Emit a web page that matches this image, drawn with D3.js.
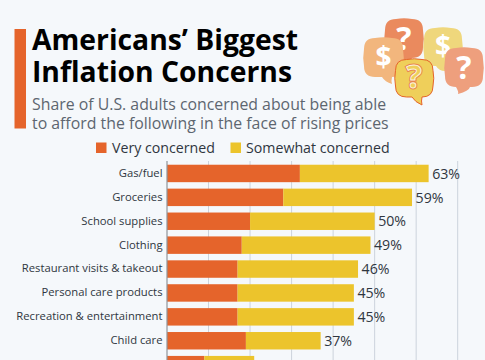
<!DOCTYPE html>
<html><head><meta charset="utf-8">
<script src="https://cdn.jsdelivr.net/npm/d3@7"></script>
<style>html,body{margin:0;padding:0;background:#f5f8fb;overflow:hidden}svg{display:block}text{font-family:"Open Sans",sans-serif}</style>
</head><body><svg id="c" width="485" height="360"></svg>
<script>
const categories=["Gas/fuel","Groceries","School supplies","Clothing","Restaurant visits & takeout","Personal care products","Recreation & entertainment","Child care","Public transportation"];
const veryConcerned=[32,28,20,18,17,17,17,19,9];
const somewhatConcerned=[31,31,30,31,29,28,28,18,12];
const totalLabels=["63%","59%","50%","49%","46%","45%","45%","37%","21%"];
const gridTicks=[0,10,20,30,40,50,60,70];
const legendLabels=["Very concerned","Somewhat concerned"];
const titleLines=["Americans’ Biggest","Inflation Concerns"];
const subtitleLines=["Share of U.S. adults concerned about being able","to afford the following in the face of rising prices"];
const ORANGE="#e5642b",YELLOW="#ecc42c";
const svg=d3.select("#c");
const x=d3.scaleLinear().domain([0,70]).range([167,457.7]);
const y=d3.scaleBand().domain(categories).range([161.5,376.6]).paddingInner(0.27).paddingOuter(0.135);
svg.append("g").selectAll("line").data(gridTicks.slice(1)).join("line")
 .attr("x1",d=>x(d)).attr("x2",d=>x(d)).attr("y1",161).attr("y2",360)
 .attr("stroke","#ccd3dc").attr("stroke-width",1);
svg.append("g").selectAll("rect").data(categories).join("rect")
 .attr("x",x(0)).attr("y",d=>y(d)).attr("height",y.bandwidth())
 .attr("width",(d,i)=>x(veryConcerned[i])-x(0)).attr("fill",ORANGE);
svg.append("g").selectAll("rect").data(categories).join("rect")
 .attr("x",(d,i)=>x(veryConcerned[i])).attr("y",d=>y(d)).attr("height",y.bandwidth())
 .attr("width",(d,i)=>x(veryConcerned[i]+somewhatConcerned[i])-x(veryConcerned[i])).attr("fill",YELLOW);
svg.append("line").attr("x1",x(0)).attr("x2",x(0)).attr("y1",161).attr("y2",360).attr("stroke","#8f959b").attr("stroke-width",1.2);
svg.append("g").selectAll("text").data(categories).join("text")
 .attr("x",162.5).attr("y",d=>y(d)+y.bandwidth()/2+3.4).attr("text-anchor","end")
 .attr("font-size",11.25).attr("fill","#2f3640").text(d=>d);
svg.append("g").selectAll("text").data(categories).join("text")
 .attr("x",(d,i)=>x(veryConcerned[i]+somewhatConcerned[i])+3.5).attr("y",d=>y(d)+y.bandwidth()/2+5.2)
 .attr("font-size",14.2).attr("fill","#2f3640").text((d,i)=>totalLabels[i]);
svg.append("rect").attr("x",14.5).attr("y",29).attr("width",11.5).attr("height",99.5).attr("fill",ORANGE);
svg.append("g").selectAll("text").data(titleLines).join("text").attr("x",32).attr("y",(d,i)=>50+i*32)
 .attr("font-size",28.3).attr("font-weight",700).attr("fill","#000").text(d=>d);
svg.append("g").selectAll("text").data(subtitleLines).join("text").attr("x",32).attr("y",(d,i)=>109.5+i*19.2)
 .attr("font-size",15.85).attr("fill","#5d6670").text(d=>d);
const lg=svg.append("g");
[[96,ORANGE,112],[230.5,YELLOW,246]].forEach(([sx,c,tx],i)=>{
 lg.append("rect").attr("x",sx).attr("y",142.5).attr("width",10.5).attr("height",10.5).attr("fill",c);
 lg.append("text").attr("x",tx).attr("y",153).attr("font-size",14.2).attr("fill","#2f3640").text(legendLabels[i]);
});
function bubble(x0,y0,x1,y1,tail,fill,sym,o={}){
 const g=svg.append("g");
 const r=11,cx=(x0+x1)/2,[ta,tip,tb]=tail;
 const d=`M${x0+r},${y0} Q${cx},${y0-1.5} ${x1-r},${y0} Q${x1},${y0} ${x1},${y0+r} Q${x1+1.5},${(y0+y1)/2} ${x1},${y1-r} Q${x1},${y1} ${x1-r},${y1} L${tb},${y1} Q${tb-1},${y1+4} ${tip[0]},${tip[1]} Q${ta+3},${y1+5} ${ta},${y1} L${x0+r},${y1} Q${x0},${y1} ${x0},${y1-r} Q${x0-1.5},${(y0+y1)/2} ${x0},${y0+r} Q${x0},${y0} ${x0+r},${y0}Z`;
 g.append("path").attr("d",d).attr("fill",fill).attr("stroke",o.stroke||"none").attr("stroke-width",o.stroke?1:0);
 if(o.under) g.append("text").attr("x",cx).attr("y",(y0+y1)/2+o.dy).attr("text-anchor","middle").attr("font-size",o.fs).attr("font-weight",700)
   .attr("fill","none").attr("stroke",o.under).attr("stroke-width",3).text(sym);
 g.append("text").attr("x",cx).attr("y",(y0+y1)/2+o.dy).attr("text-anchor","middle").attr("font-size",o.fs).attr("font-weight",700)
  .attr("fill",o.tf||"#fff").attr("stroke",o.ts||"none").attr("stroke-width",o.ts?1:0).text(sym);
}
bubble(385,19,423,58,[400,[405,64],412],"#ea8a5e","?",{fs:32,dy:11});
bubble(424,28,462,66,[436,[445,71],446],"#efd77c","$",{fs:28,dy:9});
bubble(364,38,403,77,[382,[392,84],392],"#f2b67d","$",{fs:28,dy:9});
bubble(445,48,483,87,[456,[458,94],470],"#ee9f7d","?",{fs:32,dy:11});
bubble(395.5,59.5,433,97,[412,[422,105],422],"#efcf5a","?",{fs:32,dy:10,stroke:"#e5642b",tf:"#efcf5a",ts:"#fbf3de",under:"#e8844f"});
</script></body></html>
